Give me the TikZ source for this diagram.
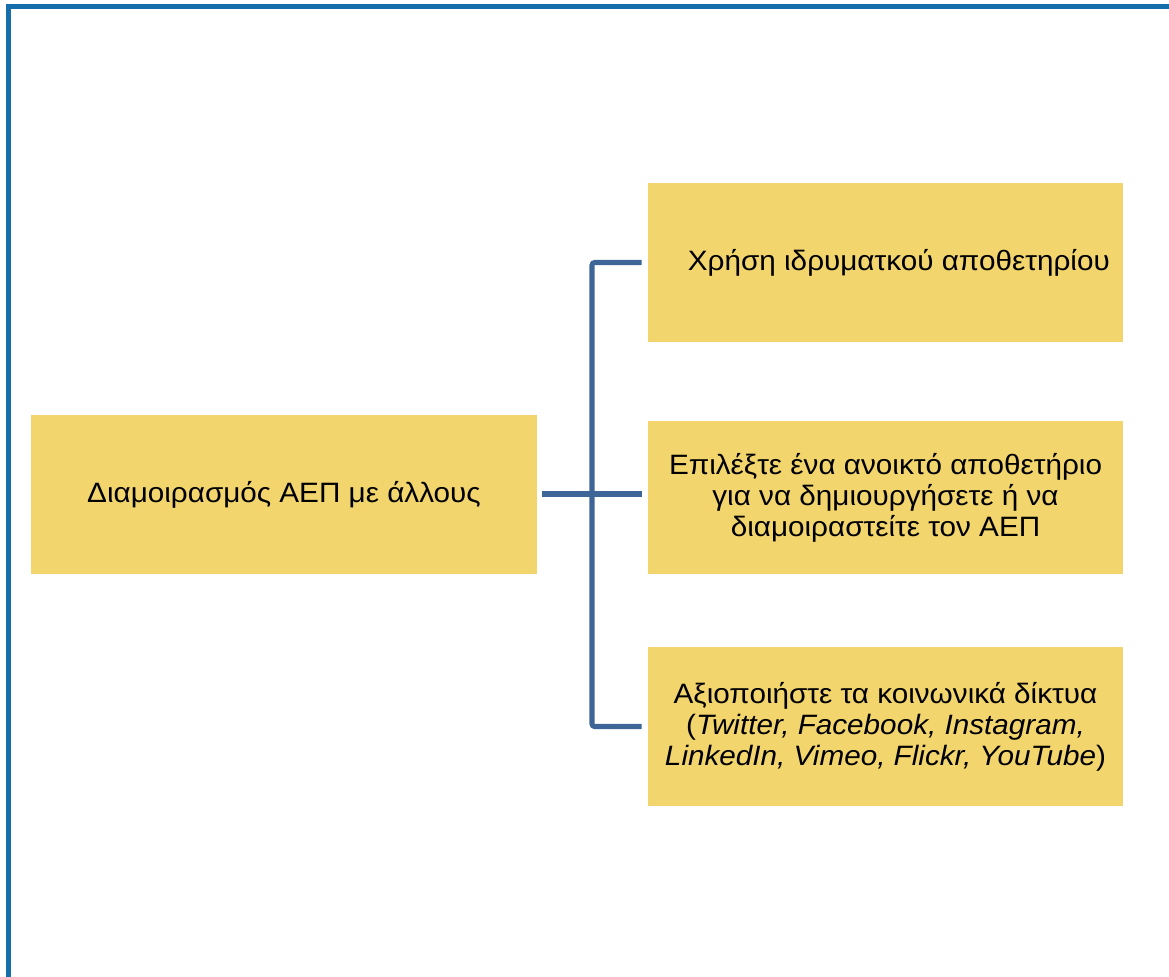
\documentclass[tikz,border=0pt]{standalone}
\usepackage{fontspec}
\setmainfont[FakeStretch=1.06]{Liberation Sans}
\usepackage{xcolor}
\definecolor{frameblue}{RGB}{22,110,170}
\definecolor{linkblue}{RGB}{61,101,152}
\definecolor{boxyellow}{RGB}{242,213,109}
\usetikzlibrary{calc}

\tikzset{
  box/.style={fill=boxyellow, draw=none, align=center, inner sep=0pt,
    font=\fontsize{21}{23.25}\selectfont},
  link/.style={draw=linkblue, line width=3.8pt, rounded corners=2pt}
}

\begin{document}
\begin{tikzpicture}[x=0.75pt, y=-0.75pt]
  \useasboundingbox (0,0) rectangle (1169,976);
  % Frame (cut off at right and bottom)
  \begin{scope}
    \clip (0,0) rectangle (1169,976);
    \draw[frameblue, line width=4pt] (8.5,990) -- (8.5,6.5) -- (1190,6.5);
  \end{scope}

  % --- Main node ---
  \node[box, minimum width=379.5pt, minimum height=119.25pt] (share) at (284,494.5)
    {Διαμοιρασμός ΑΕΠ με άλλους};

  % --- Options ---
  \node[box, minimum width=356.25pt, minimum height=119.25pt] (repo) at (885.5,262.5)
    {\hspace*{20pt}Χρήση ιδρυματκού αποθετηρίου};
  \node[box, minimum width=356.25pt, minimum height=114.75pt] (open) at (885.5,497.5)
    {Επιλέξτε ένα ανοικτό αποθετήριο\\για να δημιουργήσετε ή να\\διαμοιραστείτε τον ΑΕΠ};
  \node[box, minimum width=356.25pt, minimum height=119.25pt] (social) at (885.5,726.5)
    {Αξιοποιήστε τα κοινωνικά δίκτυα\\(\textit{Twitter, Facebook, Instagram,}\\\textit{LinkedIn, Vimeo, Flickr, YouTube})};

  % --- Connectors ---
  \coordinate (trunk) at (592,494);
  \draw[link] ([xshift=3.75pt]share.east |- trunk) -- ([xshift=-4.5pt]open.west |- trunk);
  \draw[link] ([xshift=-4.5pt]repo.west) -| (trunk) |- ([xshift=-4.5pt]social.west);
\end{tikzpicture}
\end{document}
